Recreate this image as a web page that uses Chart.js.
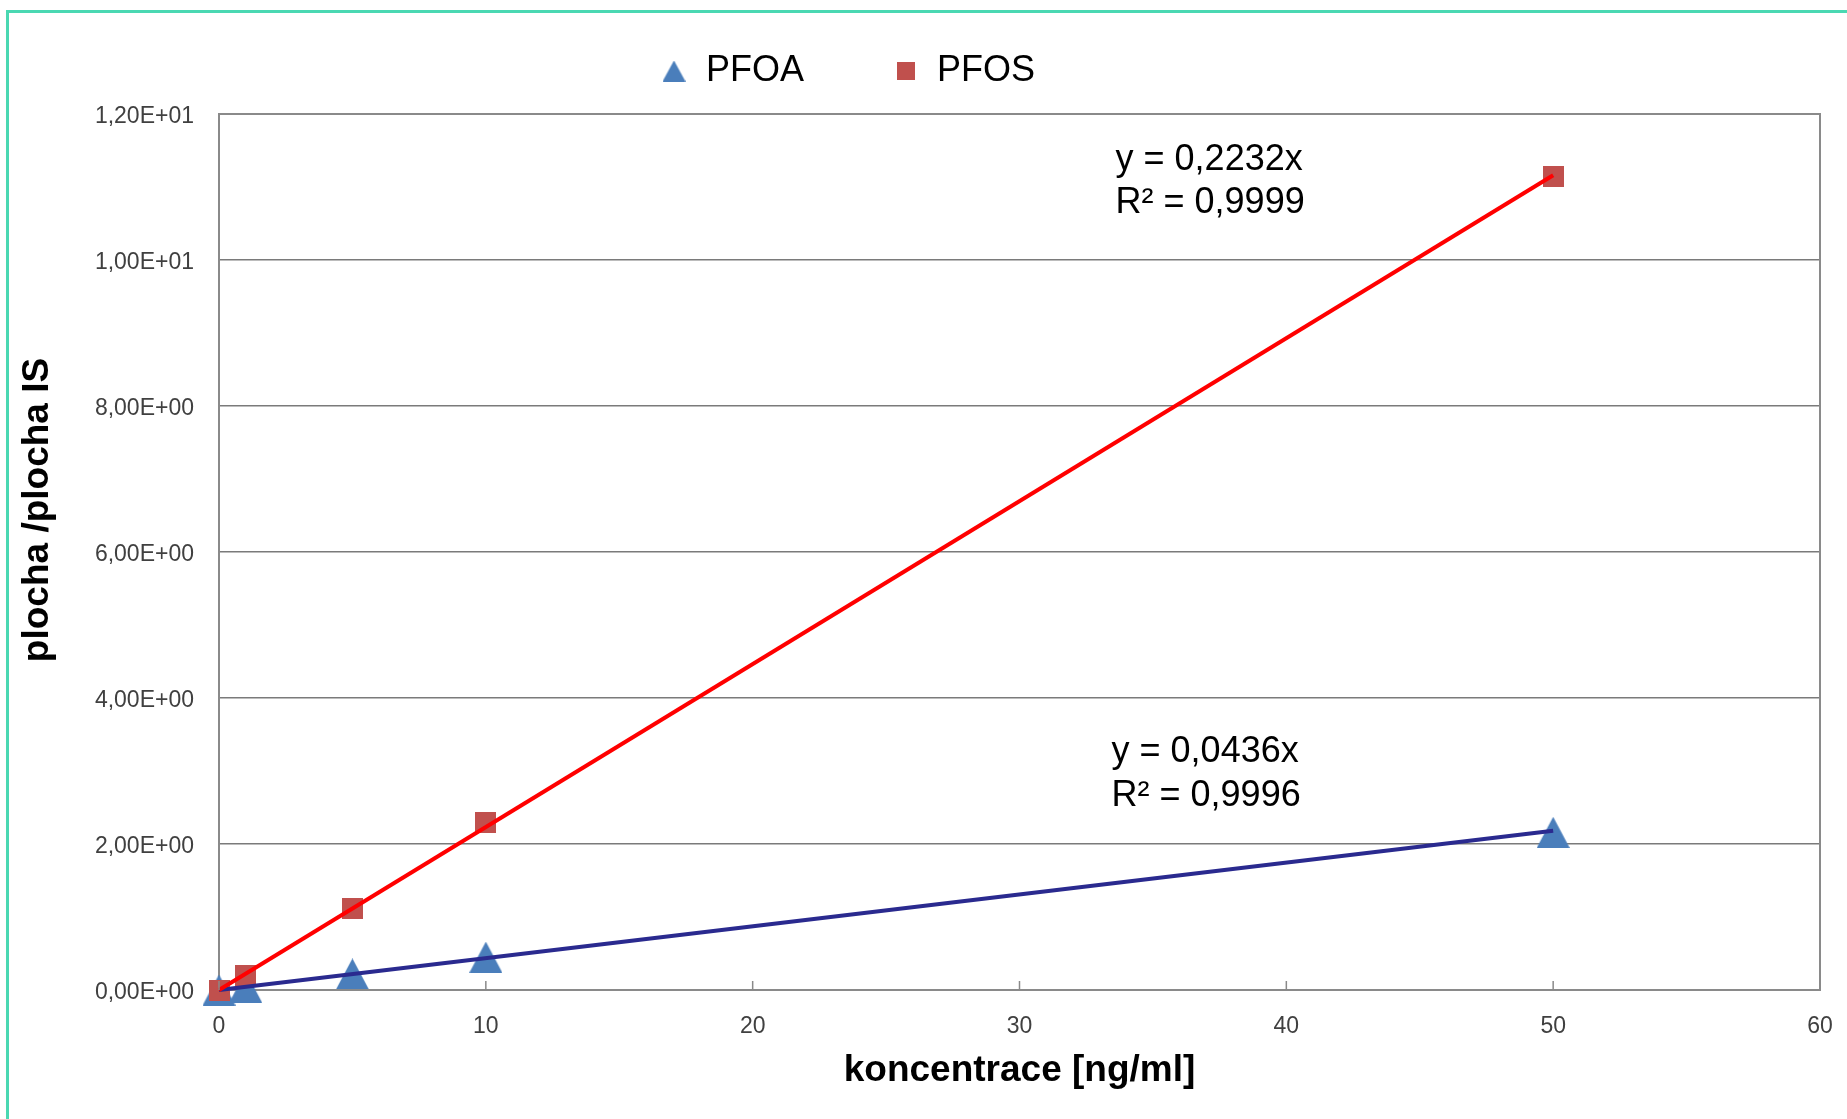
<!DOCTYPE html>
<html>
<head>
<meta charset="utf-8">
<script src="https://cdn.jsdelivr.net/npm/chart.js@4.4.1/dist/chart.umd.min.js"></script>
<style>
  html, body { margin: 0; padding: 0; background: #fff; overflow: hidden; }
  #frame { position: absolute; left: 6px; top: 10px; width: 1900px; height: 1200px;
           border-left: 3px solid #4ad8b2; border-top: 3px solid #4ad8b2; }
  #chart { position: absolute; left: 0; top: 0; }
</style>
</head>
<body>
<div id="frame"></div>
<canvas id="chart" width="1847" height="1119"></canvas>
<script>
// calibration data
const concentrations = [0, 1, 5, 10, 50];
const pfoaValues = [0, 0.04, 0.22, 0.45, 2.16];
const pfosValues = [0, 0.2, 1.12, 2.30, 11.15];

// linear trendlines (through origin)
const trendX = [0, 50];
const pfoaTrend = [0, 2.18];
const pfosTrend = [0, 11.16];

const seriesNames = ["PFOA", "PFOS"];
const xTitle = "koncentrace [ng/ml]";
const yTitle = "plocha /plocha IS";
const xTicks = [0, 10, 20, 30, 40, 50, 60];
const yTicks = [0, 2, 4, 6, 8, 10, 12];

// trendline equations, anchored in data coordinates [x, y1, y2]
const pfosEquation = ["y = 0,2232x", "R\u00b2 = 0,9999"];
const pfosEqAnchor = [33.6, 11.37, 10.78];
const pfoaEquation = ["y = 0,0436x", "R\u00b2 = 0,9996"];
const pfoaEqAnchor = [33.45, 3.26, 2.66];

const BLUE = "#4a7ebb";
const RED = "#c0504d";
const AXIS = "#8a8a8a";
const FONT = "'Liberation Sans', Arial, sans-serif";

// Excel-like markers: triangle centered on its bounding box
const makeTriangle = (w, h) => {
  const c = document.createElement("canvas");
  c.width = w; c.height = h;
  const g = c.getContext("2d");
  g.fillStyle = BLUE;
  g.beginPath();
  g.moveTo(w / 2, 0);
  g.lineTo(w, h);
  g.lineTo(0, h);
  g.closePath();
  g.fill();
  return c;
};
const makeSquare = (s) => {
  const c = document.createElement("canvas");
  c.width = s; c.height = s;
  const g = c.getContext("2d");
  g.fillStyle = RED;
  g.fillRect(0, 0, s, s);
  return c;
};
const triMarker = makeTriangle(33, 31);
const sqMarker = makeSquare(21);
const triLegend = makeTriangle(23, 21);
const sqLegend = makeSquare(18);

const sci = (v) => {
  if (v === 0) return "0,00E+00";
  const e = Math.floor(Math.log10(v) + 1e-9);
  const m = v / Math.pow(10, e);
  return m.toFixed(2).replace(".", ",") + "E" + (e < 0 ? "-" : "+") + String(Math.abs(e)).padStart(2, "0");
};

const toPoints = (xs, ys) => xs.map((x, i) => ({ x: x, y: ys[i] }));

const decorations = {
  id: "decorations",
  afterDraw(chart) {
    const { ctx, chartArea: a, scales: { x, y } } = chart;
    ctx.save();
    // plot border top/right
    ctx.strokeStyle = AXIS;
    ctx.lineWidth = 2;
    ctx.beginPath();
    ctx.moveTo(a.left, a.top);
    ctx.lineTo(a.right, a.top);
    ctx.lineTo(a.right, a.bottom);
    ctx.stroke();
    // inward tick marks on x axis
    ctx.lineWidth = 1.5;
    xTicks.forEach((t) => {
      const px = x.getPixelForValue(t);
      ctx.beginPath();
      ctx.moveTo(px, a.bottom);
      ctx.lineTo(px, a.bottom - 9);
      ctx.stroke();
    });

    // equations
    ctx.fillStyle = "#000";
    ctx.font = "36px " + FONT;
    ctx.textAlign = "left";
    ctx.textBaseline = "middle";
    [[pfosEquation, pfosEqAnchor], [pfoaEquation, pfoaEqAnchor]].forEach(([lines, an]) => {
      const px = x.getPixelForValue(an[0]);
      ctx.fillText(lines[0], px, y.getPixelForValue(an[1]));
      ctx.fillText(lines[1], px, y.getPixelForValue(an[2]));
    });

    // legend
    const ly = 71;
    ctx.drawImage(triLegend, 674 - triLegend.width / 2, ly - triLegend.height / 2);
    ctx.fillText(seriesNames[0], 706, ly);
    ctx.drawImage(sqLegend, 906 - sqLegend.width / 2, ly - sqLegend.height / 2);
    ctx.fillText(seriesNames[1], 937, ly);

    // axis titles
    ctx.font = "bold 37px " + FONT;
    ctx.textAlign = "center";
    ctx.fillText(xTitle, (a.left + a.right) / 2, 1071);
    ctx.translate(38, 510);
    ctx.rotate(-Math.PI / 2);
    ctx.fillText(yTitle, 0, 0);
    ctx.restore();
  }
};

new Chart(document.getElementById("chart"), {
  type: "scatter",
  data: {
    datasets: [
      {
        type: "line",
        label: "PFOS trend",
        data: toPoints(trendX, pfosTrend),
        borderColor: "#ff0000",
        borderWidth: 4,
        pointRadius: 0,
        fill: false,
        clip: false,
      },
      {
        type: "line",
        label: "PFOA trend",
        data: toPoints(trendX, pfoaTrend),
        borderColor: "#2a2a8f",
        borderWidth: 4,
        pointRadius: 0,
        fill: false,
        clip: false,
      },
      {
        label: seriesNames[1],
        data: toPoints(concentrations, pfosValues),
        pointStyle: sqMarker,
        pointRadius: 11,
        clip: false,
      },
      {
        label: seriesNames[0],
        data: toPoints(concentrations, pfoaValues),
        pointStyle: triMarker,
        pointRadius: 16,
        clip: false,
      },
    ],
  },
  options: {
    responsive: false,
    animation: false,
    events: [],
    layout: { padding: { top: 114, right: 27, left: 0, bottom: 0 } },
    plugins: {
      legend: { display: false },
      tooltip: { enabled: false },
    },
    scales: {
      x: {
        type: "linear",
        min: xTicks[0],
        max: xTicks[xTicks.length - 1],
        afterBuildTicks: (s) => { s.ticks = xTicks.map((v) => ({ value: v })); },
        afterFit: (s) => { s.height = 129; s.paddingLeft = 0; s.paddingRight = 0; },
        ticks: { padding: 23, color: "#404040", font: { family: FONT, size: 23 } },
        grid: { display: false, drawTicks: false },
        border: { color: AXIS, width: 2 },
      },
      y: {
        type: "linear",
        min: yTicks[0],
        max: yTicks[yTicks.length - 1],
        afterBuildTicks: (s) => { s.ticks = yTicks.map((v) => ({ value: v })); },
        afterFit: (s) => { s.width = 219; s.paddingTop = 0; s.paddingBottom = 0; },
        ticks: { padding: 25, labelOffset: 2.5, color: "#404040", font: { family: FONT, size: 23 }, callback: (v) => sci(v) },
        grid: { color: "#7a7a7a", lineWidth: 1.5, drawTicks: false },
        border: { color: AXIS, width: 2 },
      },
    },
  },
  plugins: [decorations],
});
</script>
</body>
</html>
